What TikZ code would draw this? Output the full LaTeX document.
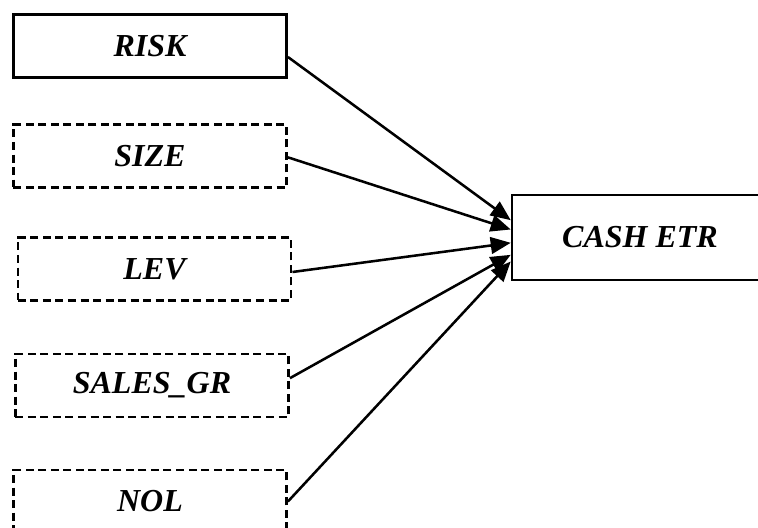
\documentclass[tikz,border=0pt]{standalone}
\usepackage{fontspec}
\setmainfont{Liberation Serif}
\usetikzlibrary{arrows.meta}
\begin{document}
\begin{tikzpicture}[x=0.75pt,y=-0.75pt,
  varbox/.style={draw,line width=1.9pt,minimum width=205pt,minimum height=47pt,
    inner sep=0pt,font=\fontsize{24}{28}\selectfont\bfseries\itshape},
  ctrlbox/.style={varbox,dash pattern=on 6pt off 3.4pt},
  link/.style={line width=1.9pt,-{Triangle[length=15pt,width=12.5pt]}}]
  \useasboundingbox (0,0) rectangle (758,528);
  \clip (0,0) rectangle (758,528);
  % explanatory variables
  \node[varbox]  (risk)  at (150,46)    {RISK};
  \node[ctrlbox] (size)  at (150,156)   {SIZE};
  \node[ctrlbox] (lev)   at (154.5,269) {LEV};
  \node[ctrlbox] (sales) at (152,385.5) {SALES\_GR};
  \node[ctrlbox] (nol)   at (150,501.5) {NOL};
  % dependent variable
  \node[varbox,minimum width=192pt,minimum height=64pt] (cash) at (640,237.5) {CASH ETR};
  % effects on the dependent variable
  \draw[link] ([yshift=-8.25pt]risk.east)  -- ([yshift=13pt]cash.west);
  \draw[link] ([yshift=-1pt]size.east)     -- ([yshift=6pt]cash.west);
  \draw[link] ([yshift=-2.25pt]lev.east)   -- ([yshift=-4pt]cash.west);
  \draw[link] ([yshift=5.5pt]sales.east)   -- ([yshift=-13pt]cash.west);
  \draw[link] ([yshift=0pt]nol.east)       -- ([yshift=-18pt]cash.west);
\end{tikzpicture}
\end{document}
